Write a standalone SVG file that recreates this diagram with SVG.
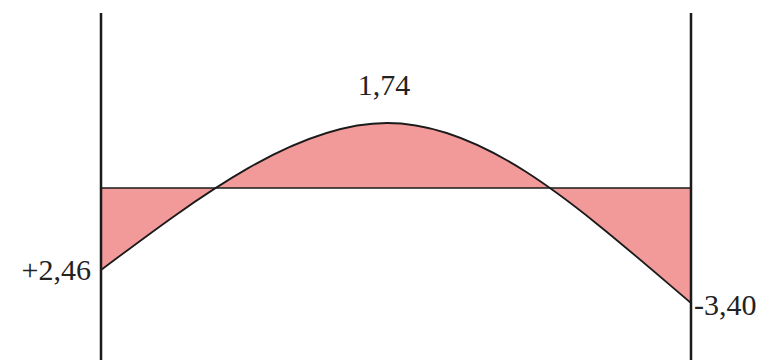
<svg xmlns="http://www.w3.org/2000/svg" width="763" height="360" viewBox="0 0 763 360">
<style>
.ax{stroke:#1a1a1a;stroke-width:2.5;fill:none}
.lbl{font-family:"Liberation Serif","Times New Roman",serif;font-size:30px;fill:#222}
</style>
<rect width="763" height="360" fill="#fff"/>
<g id="diagram">
<path d="M101,188 L101,270 C201,195 297,123 387,123 C487,123 581,209.5 691,303 L691,188 Z" fill="#F29A9A" stroke="none"/>
<path d="M101,270 C201,195 297,123 387,123 C487,123 581,209.5 691,303" fill="none" stroke="#1a1a1a" stroke-width="1.8"/>
<line x1="101" y1="188" x2="691" y2="188" stroke="#1a1a1a" stroke-width="1.5"/>
</g>
<g id="supports">
<line class="ax" x1="101" y1="13" x2="101" y2="360"/>
<line class="ax" x1="691" y1="13" x2="691" y2="360"/>
</g>
<g id="labels">
<text class="lbl" x="384" y="95" text-anchor="middle">1,74</text>
<text class="lbl" x="91" y="280" text-anchor="end">+2,46</text>
<text class="lbl" x="694" y="315">-3,40</text>
</g>
</svg>
